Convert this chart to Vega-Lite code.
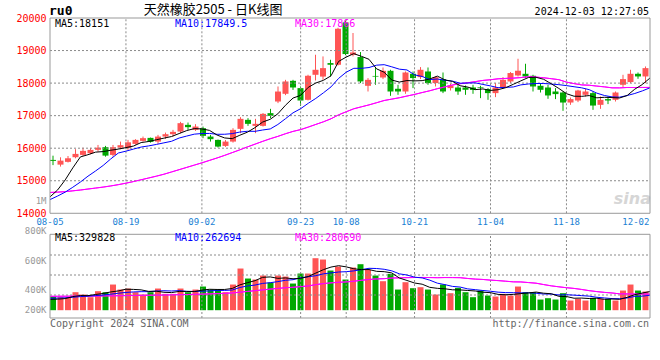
{
"$schema": "https://vega.github.io/schema/vega-lite/v6.json",
"width": 600, "height": 300,
"autosize": {"type": "none"},
"padding": {"left": 50, "top": 18, "right": 10, "bottom": 42},
"background": "#ffffff",
"config": {"view": {"stroke": null}, "text": {"font": "DejaVu Sans Mono", "fontSize": 10, "baseline": "middle"}, "line": {"strokeWidth": 1}, "rule": {"strokeWidth": 1}},
"data": {"values": [
{"d":"08-05","o":15640,"h":15770,"l":15480,"c":15610,"v":241500,"m5":14502,"m10":14420,"m30":14640,"vm5":190000,"vm10":210000,"vm30":245000},
{"d":"08-06","o":15495,"h":15720,"l":15435,"c":15618,"v":229700,"m5":14717,"m10":14530,"m30":14650,"vm5":195000,"vm10":214000,"vm30":246000},
{"d":"08-07","o":15580,"h":15760,"l":15560,"c":15690,"v":229700,"m5":15025,"m10":14650,"m30":14665,"vm5":205000,"vm10":219000,"vm30":247000},
{"d":"08-08","o":15723,"h":15970,"l":15690,"c":15825,"v":318000,"m5":15394,"m10":14800,"m30":14690,"vm5":240000,"vm10":229000,"vm30":248000},
{"d":"08-09","o":15794,"h":16017,"l":15763,"c":15917,"v":276800,"m5":15732,"m10":14960,"m30":14715,"vm5":259100,"vm10":240000,"vm30":249000},
{"d":"08-12","o":15846,"h":16010,"l":15815,"c":15948,"v":229700,"m5":15800,"m10":15140,"m30":14745,"vm5":256800,"vm10":248000,"vm30":250000},
{"d":"08-13","o":15950,"h":16100,"l":15895,"c":16017,"v":335700,"m5":15879,"m10":15300,"m30":14775,"vm5":278000,"vm10":258000,"vm30":251000},
{"d":"08-14","o":16031,"h":16071,"l":15740,"c":15772,"v":318000,"m5":15896,"m10":15470,"m30":14805,"vm5":295600,"vm10":268000,"vm30":252000},
{"d":"08-15","o":15794,"h":16100,"l":15740,"c":16031,"v":453500,"m5":15937,"m10":15670,"m30":14840,"vm5":322700,"vm10":283000,"vm30":254000},
{"d":"08-16","o":16018,"h":16203,"l":15969,"c":16092,"v":365200,"m5":15972,"m10":15852,"m30":14880,"vm5":340400,"vm10":299800,"vm30":256000},
{"d":"08-19","o":16000,"h":16255,"l":15948,"c":16180,"v":382900,"m5":16018,"m10":15909,"m30":14925,"vm5":371100,"vm10":313900,"vm30":258000},
{"d":"08-20","o":16132,"h":16277,"l":16110,"c":16255,"v":318000,"m5":16066,"m10":15973,"m30":14975,"vm5":367500,"vm10":322800,"vm30":260000},
{"d":"08-21","o":16225,"h":16357,"l":16203,"c":16308,"v":276800,"m5":16173,"m10":16035,"m30":15030,"vm5":359300,"vm10":327500,"vm30":262000},
{"d":"08-22","o":16317,"h":16326,"l":16172,"c":16194,"v":318000,"m5":16206,"m10":16071,"m30":15085,"vm5":332200,"vm10":327500,"vm30":264000},
{"d":"08-23","o":16203,"h":16409,"l":16132,"c":16357,"v":382900,"m5":16259,"m10":16115,"m30":15140,"vm5":335700,"vm10":338100,"vm30":266000},
{"d":"08-26","o":16357,"h":16480,"l":16286,"c":16430,"v":288600,"m5":16309,"m10":16164,"m30":15200,"vm5":316900,"vm10":344000,"vm30":268000},
{"d":"08-27","o":16430,"h":16563,"l":16357,"c":16502,"v":288600,"m5":16358,"m10":16212,"m30":15270,"vm5":311000,"vm10":339300,"vm30":271000},
{"d":"08-28","o":16511,"h":16809,"l":16461,"c":16769,"v":382900,"m5":16450,"m10":16312,"m30":15340,"vm5":332200,"vm10":345700,"vm30":274000},
{"d":"08-29","o":16717,"h":16788,"l":16563,"c":16646,"v":318000,"m5":16541,"m10":16373,"m30":15410,"vm5":332200,"vm10":332200,"vm30":277000},
{"d":"08-30","o":16563,"h":16739,"l":16532,"c":16665,"v":365200,"m5":16602,"m10":16431,"m30":15480,"vm5":328700,"vm10":332200,"vm30":280000},
{"d":"09-02","o":16615,"h":16665,"l":16308,"c":16379,"v":418200,"m5":16592,"m10":16451,"m30":15550,"vm5":354600,"vm10":335700,"vm30":284000},
{"d":"09-03","o":16357,"h":16409,"l":16203,"c":16277,"v":365200,"m5":16547,"m10":16453,"m30":15625,"vm5":369900,"vm10":340400,"vm30":288000},
{"d":"09-04","o":16255,"h":16265,"l":16020,"c":16049,"v":365200,"m5":16403,"m10":16427,"m30":15700,"vm5":366400,"vm10":349300,"vm30":293000},
{"d":"09-05","o":16070,"h":16250,"l":16040,"c":16203,"v":318000,"m5":16315,"m10":16428,"m30":15780,"vm5":366400,"vm10":349300,"vm30":298000},
{"d":"09-06","o":16203,"h":16615,"l":16172,"c":16563,"v":453500,"m5":16294,"m10":16448,"m30":15865,"vm5":384000,"vm10":356300,"vm30":305000},
{"d":"09-09","o":16594,"h":16954,"l":16462,"c":16902,"v":736300,"m5":16399,"m10":16496,"m30":15950,"vm5":447600,"vm10":401100,"vm30":318000},
{"d":"09-10","o":16871,"h":16923,"l":16686,"c":16748,"v":559600,"m5":16493,"m10":16520,"m30":16040,"vm5":486500,"vm10":428200,"vm30":332000},
{"d":"09-11","o":16686,"h":16902,"l":16462,"c":16748,"v":541900,"m5":16633,"m10":16518,"m30":16125,"vm5":521900,"vm10":444100,"vm30":345000},
{"d":"09-12","o":16686,"h":17080,"l":16665,"c":17055,"v":612600,"m5":16803,"m10":16559,"m30":16210,"vm5":580800,"vm10":473600,"vm30":359000},
{"d":"09-13","o":17077,"h":17209,"l":16923,"c":16994,"v":488900,"m5":16889,"m10":16592,"m30":16291,"vm5":587900,"vm10":485900,"vm30":372600},
{"d":"09-18","o":17434,"h":17896,"l":17385,"c":17741,"v":612600,"m5":17057,"m10":16728,"m30":16363,"vm5":563100,"vm10":505400,"vm30":385000},
{"d":"09-19","o":17671,"h":18100,"l":17630,"c":18050,"v":594900,"m5":17318,"m10":16905,"m30":16444,"vm5":570200,"vm10":528400,"vm30":397200},
{"d":"09-20","o":18070,"h":18100,"l":17790,"c":17865,"v":471200,"m5":17541,"m10":17087,"m30":16516,"vm5":556000,"vm10":539000,"vm30":405200},
{"d":"09-23","o":17846,"h":17896,"l":17302,"c":17465,"v":647900,"m5":17623,"m10":17213,"m30":16571,"vm5":563100,"vm10":571900,"vm30":416200},
{"d":"09-24","o":17486,"h":18256,"l":17465,"c":18225,"v":647900,"m5":17869,"m10":17379,"m30":16648,"vm5":594900,"vm10":591400,"vm30":428600},
{"d":"09-25","o":18255,"h":18871,"l":18080,"c":18409,"v":918800,"m5":18003,"m10":17530,"m30":16730,"vm5":656100,"vm10":609600,"vm30":451600},
{"d":"09-26","o":18200,"h":18820,"l":18100,"c":18460,"v":895300,"m5":18085,"m10":17701,"m30":16811,"vm5":716200,"vm10":643200,"vm30":470200},
{"d":"09-27","o":18615,"h":18717,"l":18203,"c":18563,"v":700900,"m5":18224,"m10":17883,"m30":16904,"vm5":762200,"vm10":659100,"vm30":483000},
{"d":"09-30","o":18563,"h":19700,"l":18540,"c":19670,"v":771600,"m5":18665,"m10":18144,"m30":17025,"vm5":786900,"vm10":675000,"vm30":493600},
{"d":"10-08","o":19865,"h":19926,"l":18860,"c":18892,"v":541900,"m5":18799,"m10":18334,"m30":17119,"vm5":765700,"vm10":680300,"vm30":499500},
{"d":"10-09","o":18870,"h":19539,"l":18820,"c":18942,"v":753900,"m5":18905,"m10":18454,"m30":17211,"vm5":732700,"vm10":694400,"vm30":511800},
{"d":"10-10","o":18800,"h":18954,"l":18000,"c":18050,"v":812800,"m5":18823,"m10":18454,"m30":17271,"vm5":716200,"vm10":716200,"vm30":528300},
{"d":"10-11","o":17917,"h":18154,"l":17742,"c":18100,"v":712700,"m5":18731,"m10":18478,"m30":17330,"vm5":718600,"vm10":740400,"vm30":542900},
{"d":"10-14","o":18220,"h":18462,"l":17948,"c":18200,"v":612600,"m5":18437,"m10":18551,"m30":17397,"vm5":686800,"vm10":736800,"vm30":552700},
{"d":"10-15","o":18172,"h":18480,"l":18123,"c":18378,"v":512400,"m5":18334,"m10":18566,"m30":17465,"vm5":680900,"vm10":723300,"vm30":557000},
{"d":"10-16","o":18378,"h":18409,"l":17609,"c":17742,"v":642000,"m5":18094,"m10":18500,"m30":17508,"vm5":658500,"vm10":695600,"vm30":568800},
{"d":"10-17","o":17825,"h":17948,"l":17640,"c":17742,"v":365200,"m5":18032,"m10":18428,"m30":17550,"vm5":569000,"vm10":642600,"vm30":571300},
{"d":"10-18","o":17742,"h":18357,"l":17671,"c":18326,"v":494800,"m5":18078,"m10":18404,"m30":17602,"vm5":525400,"vm10":622000,"vm30":575100},
{"d":"10-21","o":18286,"h":18357,"l":17846,"c":18154,"v":388700,"m5":18068,"m10":18253,"m30":17652,"vm5":480600,"vm10":583700,"vm30":577400},
{"d":"10-22","o":18184,"h":18492,"l":18123,"c":18409,"v":406400,"m5":18075,"m10":18204,"m30":17710,"vm5":459400,"vm10":570200,"vm30":578800},
{"d":"10-23","o":18357,"h":18480,"l":17948,"c":18000,"v":365200,"m5":18126,"m10":18110,"m30":17764,"vm5":404100,"vm10":531300,"vm30":577000},
{"d":"10-24","o":18000,"h":18203,"l":17896,"c":18184,"v":276800,"m5":18215,"m10":18124,"m30":17828,"vm5":386400,"vm10":477700,"vm30":574100},
{"d":"10-25","o":18120,"h":18326,"l":17692,"c":17742,"v":453500,"m5":18098,"m10":18088,"m30":17884,"vm5":378100,"vm10":451800,"vm30":577000},
{"d":"10-28","o":17846,"h":17979,"l":17772,"c":17926,"v":300400,"m5":18052,"m10":18060,"m30":17942,"vm5":360500,"vm10":420500,"vm30":576400},
{"d":"10-29","o":17865,"h":18000,"l":17640,"c":17742,"v":394600,"m5":17919,"m10":17997,"m30":17981,"vm5":358100,"vm10":408800,"vm30":574500},
{"d":"10-30","o":17865,"h":17926,"l":17640,"c":17795,"v":318000,"m5":17878,"m10":18002,"m30":18011,"vm5":348700,"vm10":376400,"vm30":560500},
{"d":"10-31","o":17865,"h":17948,"l":17671,"c":17790,"v":229700,"m5":17799,"m10":18007,"m30":18045,"vm5":339200,"vm10":362800,"vm30":549500},
{"d":"11-01","o":17870,"h":17917,"l":17538,"c":17850,"v":347500,"m5":17821,"m10":17959,"m30":18082,"vm5":318000,"vm10":348100,"vm30":543100},
{"d":"11-04","o":17815,"h":17846,"l":17486,"c":17692,"v":259200,"m5":17774,"m10":17913,"m30":18103,"vm5":309800,"vm10":335100,"vm30":531300},
{"d":"11-05","o":17692,"h":18000,"l":17569,"c":17865,"v":241500,"m5":17798,"m10":17859,"m30":18132,"vm5":279200,"vm10":318600,"vm30":523000},
{"d":"11-06","o":17865,"h":18185,"l":17825,"c":18100,"v":288600,"m5":17859,"m10":17869,"m30":18144,"vm5":273300,"vm10":311000,"vm30":512200},
{"d":"11-07","o":18050,"h":18339,"l":18000,"c":18309,"v":259200,"m5":17963,"m10":17881,"m30":18153,"vm5":279200,"vm10":309200,"vm30":501000},
{"d":"11-08","o":18234,"h":18748,"l":18203,"c":18380,"v":418200,"m5":18069,"m10":17945,"m30":18170,"vm5":293300,"vm10":305700,"vm30":499300},
{"d":"11-11","o":18286,"h":18594,"l":18154,"c":18204,"v":318000,"m5":18172,"m10":17973,"m30":18195,"vm5":305100,"vm10":307500,"vm30":488300},
{"d":"11-12","o":18225,"h":18255,"l":17742,"c":17896,"v":318000,"m5":18178,"m10":17988,"m30":18184,"vm5":320400,"vm10":299800,"vm30":477300},
{"d":"11-13","o":17917,"h":18000,"l":17711,"c":17794,"v":188500,"m5":18117,"m10":17988,"m30":18163,"vm5":300400,"vm10":286800,"vm30":452900},
{"d":"11-14","o":17865,"h":17948,"l":17517,"c":17620,"v":212000,"m5":17979,"m10":17971,"m30":18135,"vm5":290900,"vm10":285100,"vm30":430200},
{"d":"11-15","o":17742,"h":17846,"l":17508,"c":17662,"v":188500,"m5":17835,"m10":17952,"m30":18105,"vm5":245000,"vm10":269200,"vm30":413100},
{"d":"11-18","o":17711,"h":17742,"l":17148,"c":17403,"v":300400,"m5":17675,"m10":17923,"m30":18030,"vm5":241500,"vm10":273300,"vm30":397400},
{"d":"11-19","o":17403,"h":17557,"l":17332,"c":17508,"v":170800,"m5":17597,"m10":17888,"m30":17984,"vm5":212000,"vm10":266200,"vm30":385000},
{"d":"11-20","o":17465,"h":17794,"l":17415,"c":17772,"v":200300,"m5":17593,"m10":17855,"m30":17945,"vm5":214400,"vm10":257400,"vm30":366600},
{"d":"11-21","o":17640,"h":17825,"l":17588,"c":17742,"v":170800,"m5":17617,"m10":17798,"m30":17934,"vm5":206200,"vm10":248600,"vm30":345200},
{"d":"11-22","o":17692,"h":17742,"l":17178,"c":17310,"v":217900,"m5":17547,"m10":17691,"m30":17908,"vm5":212000,"vm10":228500,"vm30":328700},
{"d":"11-25","o":17332,"h":17588,"l":17209,"c":17486,"v":200300,"m5":17564,"m10":17619,"m30":17884,"vm5":192000,"vm10":216800,"vm30":314900},
{"d":"11-26","o":17508,"h":17588,"l":17354,"c":17465,"v":200300,"m5":17555,"m10":17576,"m30":17854,"vm5":197900,"vm10":205000,"vm30":304500},
{"d":"11-27","o":17486,"h":17742,"l":17434,"c":17711,"v":170800,"m5":17543,"m10":17568,"m30":17853,"vm5":192000,"vm10":203200,"vm30":288800},
{"d":"11-28","o":17948,"h":18255,"l":17877,"c":18123,"v":347500,"m5":17619,"m10":17618,"m30":17865,"vm5":227400,"vm10":216800,"vm30":288200},
{"d":"11-29","o":18031,"h":18409,"l":18000,"c":18286,"v":453500,"m5":17814,"m10":17681,"m30":17864,"vm5":274500,"vm10":243300,"vm30":286800},
{"d":"12-02","o":18286,"h":18326,"l":18132,"c":18204,"v":347500,"m5":17958,"m10":17761,"m30":17866,"vm5":303900,"vm10":248000,"vm30":285500},
{"d":"12-03","o":18204,"h":18511,"l":18000,"c":18460,"v":329800,"m5":18157,"m10":17856,"m30":17867,"vm5":329800,"vm10":263900,"vm30":282900}
]},
"layer": [
{
 "layer": [
  {"mark": {"type": "rule"},
   "encoding": {
    "x": {"field": "d", "type": "ordinal", "scale": {"type": "band", "paddingInner": 0.2, "paddingOuter": 0, "range": [0, 598.5]}, "axis": null},
    "y": {"field": "l", "type": "quantitative", "scale": {"domain": [10783, 20000], "zero": false, "nice": false},
      "axis": {"orient": "left", "values": [14000, 15000, 16000, 17000, 18000, 19000, 20000], "format": "d", "title": null, "labelColor": "#ff0000", "labelFont": "DejaVu Sans Mono", "labelFontSize": 10, "labelPadding": 4, "labelBaseline": "middle", "labelFlush": false, "labelOverlap": false, "ticks": false, "domain": false, "grid": false}},
    "y2": {"field": "h"},
    "color": {"condition": {"test": "datum.c >= datum.o", "value": "#ff5555"}, "value": "#00a800"}
   }},
  {"mark": {"type": "bar"},
   "encoding": {
    "x": {"field": "d", "type": "ordinal"},
    "y": {"field": "o", "type": "quantitative"},
    "y2": {"field": "c"},
    "color": {"condition": {"test": "datum.c >= datum.o", "value": "#ff5555"}, "value": "#00a800"}
   }}
 ]
},
{
 "layer": [
  {"mark": {"type": "line", "color": "#ff00ff"},
   "encoding": {"x": {"field": "d", "type": "ordinal", "scale": {"type": "point", "padding": 0}, "axis": null},
    "y": {"field": "m30", "type": "quantitative", "scale": {"domain": [10783, 20000], "zero": false, "nice": false}, "axis": null}}},
  {"transform": [{"filter": "indexof(['08-19','09-02','09-23','10-08','10-21','11-04','11-18'], datum.d) >= 0"}],
   "mark": {"type": "rule", "color": "#8a8a8a", "strokeDash": [2, 2]},
   "encoding": {"x": {"field": "d", "type": "ordinal", "axis": null}, "y": {"datum": 14000, "type": "quantitative", "axis": null}, "y2": {"datum": 20000}}},
  {"data": {"values": [{"f": 1}]}, "mark": {"type": "rule", "color": "#8a8a8a", "strokeDash": [2, 2]},
   "encoding": {"x": {"datum": "08-05", "type": "ordinal", "axis": null}, "x2": {"datum": "12-03"}, "y": {"datum": 15000, "type": "quantitative", "axis": null}}},
  {"data": {"values": [{"f": 1}]}, "mark": {"type": "rule", "color": "#8a8a8a", "strokeDash": [2, 2]},
   "encoding": {"x": {"datum": "08-05", "type": "ordinal", "axis": null}, "x2": {"datum": "12-03"}, "y": {"datum": 16000, "type": "quantitative", "axis": null}}},
  {"data": {"values": [{"f": 1}]}, "mark": {"type": "rule", "color": "#8a8a8a", "strokeDash": [2, 2]},
   "encoding": {"x": {"datum": "08-05", "type": "ordinal", "axis": null}, "x2": {"datum": "12-03"}, "y": {"datum": 17000, "type": "quantitative", "axis": null}}},
  {"data": {"values": [{"f": 1}]}, "mark": {"type": "rule", "color": "#8a8a8a", "strokeDash": [2, 2]},
   "encoding": {"x": {"datum": "08-05", "type": "ordinal", "axis": null}, "x2": {"datum": "12-03"}, "y": {"datum": 18000, "type": "quantitative", "axis": null}}},
  {"data": {"values": [{"f": 1}]}, "mark": {"type": "rule", "color": "#8a8a8a", "strokeDash": [2, 2]},
   "encoding": {"x": {"datum": "08-05", "type": "ordinal", "axis": null}, "x2": {"datum": "12-03"}, "y": {"datum": 19000, "type": "quantitative", "axis": null}}},
  {"mark": {"type": "line", "color": "#ff00ff"},
   "encoding": {"x": {"field": "d", "type": "ordinal", "axis": null}, "y": {"field": "m30", "type": "quantitative", "axis": null}}},
  {"mark": {"type": "line", "color": "#0000ff"},
   "encoding": {"x": {"field": "d", "type": "ordinal", "axis": null}, "y": {"field": "m10", "type": "quantitative", "axis": null}}},
  {"mark": {"type": "line", "color": "#000000"},
   "encoding": {"x": {"field": "d", "type": "ordinal", "axis": null}, "y": {"field": "m5", "type": "quantitative", "axis": null}}},
  {"data": {"values": [{"t": "sina"}]},
   "mark": {"type": "text", "font": "DejaVu Sans", "fontSize": 16, "fontStyle": "italic", "fontWeight": "bold", "color": "#d6d6d6", "align": "right", "dx": 1},
   "encoding": {"x": {"datum": "12-03", "type": "ordinal", "axis": null}, "y": {"datum": 14439, "type": "quantitative", "axis": null}, "text": {"field": "t"}}},
  {"data": {"values": [{"f": 1}]},
   "mark": {"type": "rect", "filled": false, "color": "#999999", "strokeWidth": 1},
   "encoding": {"x": {"datum": "08-05", "type": "ordinal", "axis": null}, "x2": {"datum": "12-03"}, "y": {"datum": 14000, "type": "quantitative", "axis": null}, "y2": {"datum": 20000}}},
  {"transform": [{"filter": "indexof(['08-05','08-19','09-02','09-23','10-08','10-21','11-04','11-18'], datum.d) >= 0"}],
   "mark": {"type": "text", "color": "#1a7fd4", "fontSize": 9},
   "encoding": {"x": {"field": "d", "type": "ordinal", "axis": null}, "y": {"datum": 13723, "type": "quantitative", "axis": null}, "text": {"field": "d"}}},
  {"transform": [{"filter": "datum.d === '12-02'"}],
   "mark": {"type": "text", "color": "#1a7fd4", "fontSize": 9, "align": "right", "dx": 7},
   "encoding": {"x": {"field": "d", "type": "ordinal", "axis": null}, "y": {"datum": 13723, "type": "quantitative", "axis": null}, "text": {"field": "d"}}},
  {"data": {"values": [{"t": "MA5:18151"}]},
   "mark": {"type": "text", "color": "#000000", "align": "left", "dx": 5},
   "encoding": {"x": {"datum": "08-05", "type": "ordinal", "axis": null}, "y": {"datum": 19816, "type": "quantitative", "axis": null}, "text": {"field": "t"}}},
  {"data": {"values": [{"t": "MA10:17849.5"}]},
   "mark": {"type": "text", "color": "#0000ff", "align": "left", "dx": 3.5},
   "encoding": {"x": {"datum": "08-27", "type": "ordinal", "axis": null}, "y": {"datum": 19816, "type": "quantitative", "axis": null}, "text": {"field": "t"}}},
  {"data": {"values": [{"t": "MA30:17866"}]},
   "mark": {"type": "text", "color": "#ff00ff", "align": "left", "dx": 2},
   "encoding": {"x": {"datum": "09-20", "type": "ordinal", "axis": null}, "y": {"datum": 19816, "type": "quantitative", "axis": null}, "text": {"field": "t"}}},
  {"data": {"values": [{"t": "ru0"}]},
   "mark": {"type": "text", "color": "#000000", "align": "left", "dx": -1, "fontSize": 13, "fontWeight": "bold"},
   "encoding": {"x": {"datum": "08-05", "type": "ordinal", "axis": null}, "y": {"datum": 20200, "type": "quantitative", "axis": null}, "text": {"field": "t"}}},
  {"data": {"values": [{"t": "天然橡胶2505 - 日K线图"}]},
   "mark": {"type": "text", "color": "#000000", "align": "center", "dx": -4, "font": "Noto Sans CJK SC", "fontSize": 13},
   "encoding": {"x": {"datum": "09-04", "type": "ordinal", "axis": null}, "y": {"datum": 20246, "type": "quantitative", "axis": null}, "text": {"field": "t"}}},
  {"data": {"values": [{"t": "2024-12-03 12:27:05"}]},
   "mark": {"type": "text", "color": "#000000", "align": "right", "dx": -1},
   "encoding": {"x": {"datum": "12-03", "type": "ordinal", "axis": null}, "y": {"datum": 20175, "type": "quantitative", "axis": null}, "text": {"field": "t"}}}
 ]
},
{
 "layer": [
  {"mark": {"type": "bar"},
   "encoding": {
    "x": {"field": "d", "type": "ordinal", "scale": {"type": "band", "paddingInner": 0.2, "paddingOuter": 0, "range": [0, 598.5]}, "axis": null},
    "y": {"field": "v", "type": "quantitative", "scale": {"domain": [-137800, 5163200], "zero": false, "nice": false},
      "axis": {"orient": "left", "values": [8835, 362235, 881733, 1404765, 1934865], "labelExpr": "datum.value > 1700000 ? '1M' : datum.value > 1200000 ? '800K' : datum.value > 700000 ? '600K' : datum.value > 200000 ? '400K' : '200K'", "title": null, "labelColor": "#999999", "labelFont": "DejaVu Sans Mono", "labelFontSize": 9, "labelPadding": 4, "labelBaseline": "middle", "labelFlush": false, "labelOverlap": false, "ticks": false, "domain": false, "grid": false}},
    "y2": {"datum": 0},
    "color": {"condition": {"test": "datum.c >= datum.o", "value": "#ff5555"}, "value": "#00a800"}
   }}
 ]
},
{
 "layer": [
  {"mark": {"type": "line", "color": "#ff00ff"},
   "encoding": {"x": {"field": "d", "type": "ordinal", "scale": {"type": "point", "padding": 0}, "axis": null},
    "y": {"field": "vm30", "type": "quantitative", "scale": {"domain": [-137800, 5163200], "zero": false, "nice": false}, "axis": null}}},
  {"transform": [{"filter": "indexof(['08-19','09-02','09-23','10-08','10-21','11-04','11-18'], datum.d) >= 0"}],
   "mark": {"type": "rule", "color": "#8a8a8a", "strokeDash": [2, 2]},
   "encoding": {"x": {"field": "d", "type": "ordinal", "axis": null}, "y": {"datum": -137800, "type": "quantitative", "axis": null}, "y2": {"datum": 1341000}}},
  {"data": {"values": [{"f": 1}]}, "mark": {"type": "rule", "color": "#8a8a8a", "strokeDash": [2, 2]},
   "encoding": {"x": {"datum": "08-05", "type": "ordinal", "axis": null}, "x2": {"datum": "12-03"}, "y": {"datum": 268600, "type": "quantitative", "axis": null}}},
  {"data": {"values": [{"f": 1}]}, "mark": {"type": "rule", "color": "#8a8a8a", "strokeDash": [2, 2]},
   "encoding": {"x": {"datum": "08-05", "type": "ordinal", "axis": null}, "x2": {"datum": "12-03"}, "y": {"datum": 622000, "type": "quantitative", "axis": null}}},
  {"data": {"values": [{"f": 1}]}, "mark": {"type": "rule", "color": "#8a8a8a", "strokeDash": [2, 2]},
   "encoding": {"x": {"datum": "08-05", "type": "ordinal", "axis": null}, "x2": {"datum": "12-03"}, "y": {"datum": 975400, "type": "quantitative", "axis": null}}},
  {"mark": {"type": "line", "color": "#ff00ff"},
   "encoding": {"x": {"field": "d", "type": "ordinal", "axis": null}, "y": {"field": "vm30", "type": "quantitative", "axis": null}}},
  {"mark": {"type": "line", "color": "#0000ff"},
   "encoding": {"x": {"field": "d", "type": "ordinal", "axis": null}, "y": {"field": "vm10", "type": "quantitative", "axis": null}}},
  {"mark": {"type": "line", "color": "#000000"},
   "encoding": {"x": {"field": "d", "type": "ordinal", "axis": null}, "y": {"field": "vm5", "type": "quantitative", "axis": null}}},
  {"data": {"values": [{"f": 1}]},
   "mark": {"type": "rect", "filled": false, "color": "#999999", "strokeWidth": 1},
   "encoding": {"x": {"datum": "08-05", "type": "ordinal", "axis": null}, "x2": {"datum": "12-03"}, "y": {"datum": -137800, "type": "quantitative", "axis": null}, "y2": {"datum": 1341000}}},
  {"data": {"values": [{"t": "MA5:329828"}]},
   "mark": {"type": "text", "color": "#000000", "align": "left", "dx": 5},
   "encoding": {"x": {"datum": "08-05", "type": "ordinal", "axis": null}, "y": {"datum": 1270500, "type": "quantitative", "axis": null}, "text": {"field": "t"}}},
  {"data": {"values": [{"t": "MA10:262694"}]},
   "mark": {"type": "text", "color": "#0000ff", "align": "left", "dx": 3.5},
   "encoding": {"x": {"datum": "08-27", "type": "ordinal", "axis": null}, "y": {"datum": 1270500, "type": "quantitative", "axis": null}, "text": {"field": "t"}}},
  {"data": {"values": [{"t": "MA30:280690"}]},
   "mark": {"type": "text", "color": "#ff00ff", "align": "left", "dx": 2},
   "encoding": {"x": {"datum": "09-20", "type": "ordinal", "axis": null}, "y": {"datum": 1270500, "type": "quantitative", "axis": null}, "text": {"field": "t"}}},
  {"data": {"values": [{"t": "Copyright 2024 SINA.COM"}]},
   "mark": {"type": "text", "color": "#666666", "align": "left", "dx": 0},
   "encoding": {"x": {"datum": "08-05", "type": "ordinal", "axis": null}, "y": {"datum": -235000, "type": "quantitative", "axis": null}, "text": {"field": "t"}}},
  {"data": {"values": [{"t": "http://finance.sina.com.cn"}]},
   "mark": {"type": "text", "color": "#666666", "align": "right", "dx": -1},
   "encoding": {"x": {"datum": "12-03", "type": "ordinal", "axis": null}, "y": {"datum": -235000, "type": "quantitative", "axis": null}, "text": {"field": "t"}}}
 ]
}
],
"resolve": {"scale": {"x": "independent", "y": "independent"}}
}
